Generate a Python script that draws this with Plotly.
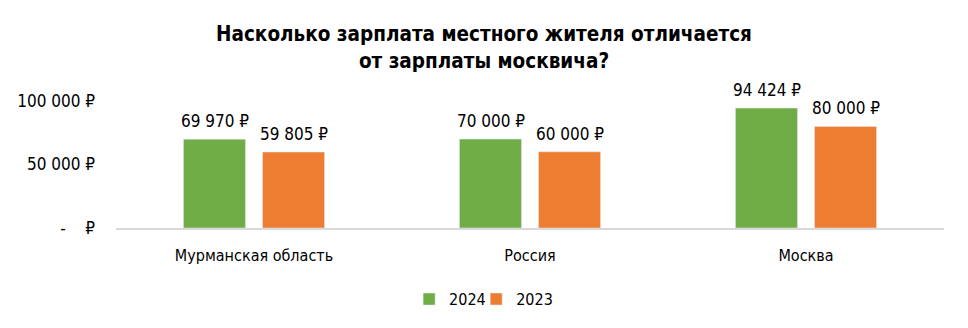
import plotly.graph_objects as go

categories = ["Мурманская область", "Россия", "Москва"]
values_2024 = [69970, 70000, 94424]
values_2023 = [59805, 60000, 80000]
series_names = ["2024", "2023"]
tick_vals = [0, 50000, 100000]
tick_text = ["-\u00a0\u00a0\u00a0\u00a0₽", "50\u00a0000\u00a0₽", "100\u00a0000\u00a0₽"]

FONT = "Liberation Sans Narrow, Arial Narrow, DejaVu Sans Condensed, sans-serif"
COLORS = ["#70AD47", "#ED7D31"]
SLOT_SHIFT = [-39, 40]
LEGENDS = ["legend", "legend2"]


def fmt(v):
    return f"{v:,}".replace(",", "\u00a0") + "\u00a0₽"


fig = go.Figure()
for name, vals, color, shift, lg in zip(series_names, [values_2024, values_2023], COLORS, SLOT_SHIFT, LEGENDS):
    fig.add_trace(go.Bar(name=name, x=categories, y=vals, marker_color=color, legend=lg))
    for c, v in zip(categories, vals):
        fig.add_annotation(x=c, y=v, xref="x", yref="y", text=fmt(v), showarrow=False,
                           xanchor="center", yanchor="bottom", xshift=shift, yshift=6,
                           font=dict(size=17, color="#000000", family=FONT))

legend_style = dict(orientation="h", xanchor="left", y=-0.56, yanchor="middle",
                    font=dict(size=16, family=FONT), itemwidth=30, bgcolor="rgba(0,0,0,0)")

fig.update_layout(
    width=968, height=328,
    margin=dict(l=116, r=24, t=101, b=97),
    paper_bgcolor="white", plot_bgcolor="white",
    barmode="group", bargap=0.427, bargroupgap=0.215,
    font=dict(family=FONT, size=16, color="#000000"),
    title=dict(text="<b>Насколько зарплата местного жителя отличается<br>от зарплаты москвича?</b>",
               x=0.5, xanchor="center", y=0.875, yanchor="top",
               font=dict(size=20.5, family=FONT, color="#000000")),
    legend=dict(x=0.354, **legend_style),
    legend2=dict(x=0.435, **legend_style),
    showlegend=True,
)
fig.update_xaxes(showline=True, linecolor="#D9D9D9", linewidth=1.5, ticks="",
                 tickfont=dict(size=16, family=FONT), showgrid=False,
                 ticklabelstandoff=12)
fig.update_yaxes(range=[0, 100000], tickvals=tick_vals, ticktext=tick_text,
                 showgrid=False, zeroline=False, showline=False,
                 tickfont=dict(size=17, family=FONT), ticklabelstandoff=20)

fig.write_html("out.html")
